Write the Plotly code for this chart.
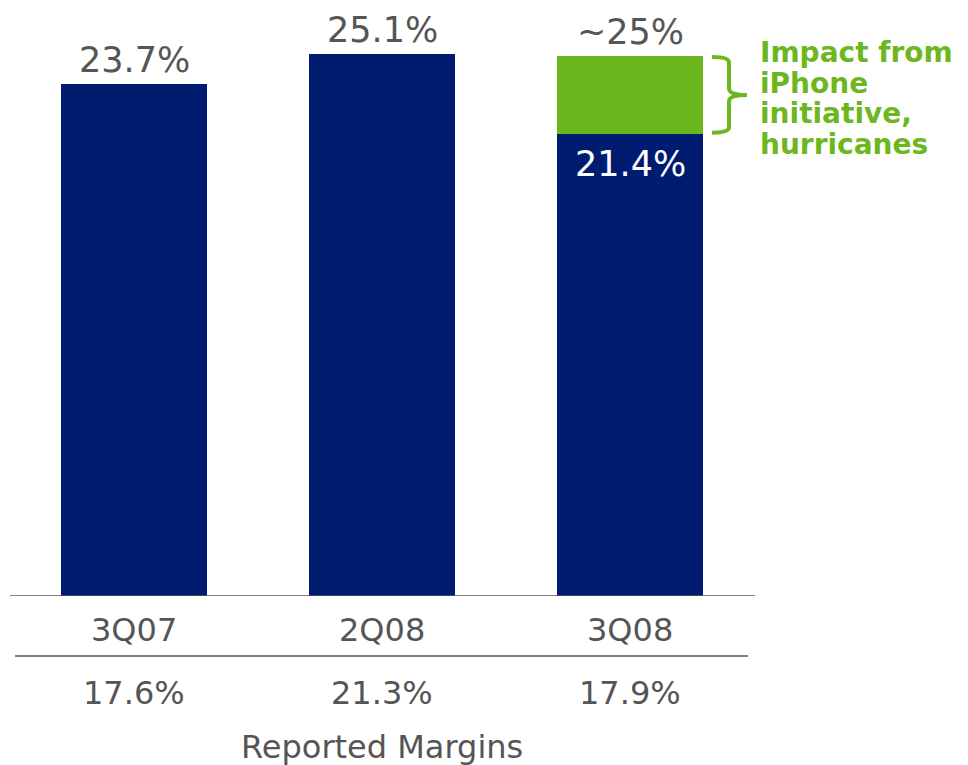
import plotly.graph_objects as go

# Quarterly margin data
quarters = ["3Q07", "2Q08", "3Q08"]
adjusted_margin = [23.7, 25.1, 21.4]       # navy bars (%)
adjusted_labels = ["23.7%", "25.1%", "21.4%"]
impact_quarter = ["3Q08"]
impact_total = [25.0]                      # "~25%" including impact
impact_total_label = "~25%"
reported_margins = ["17.6%", "21.3%", "17.9%"]
impact_lines = ["Impact from", "iPhone", "initiative,", "hurricanes"]

NAVY = "#001C71"
GREEN = "#6DB71E"
GREY = "#555555"
FONT = "DejaVu Sans"

W, H = 968, 765
ML, MR, MT, MB = 10, 214, 20, 169
PLOT_W = W - ML - MR
PLOT_H = H - MT - MB
Y_MAX = PLOT_H / 21.6


def px_x(px):
    return (px - ML) / PLOT_W


def px_y(py):
    return (H - MB - py) / PLOT_H


impact_height = [t - adjusted_margin[quarters.index(q)] for q, t in zip(impact_quarter, impact_total)]

fig = go.Figure()
fig.add_trace(go.Bar(x=quarters, y=adjusted_margin, marker=dict(color=NAVY, line=dict(width=0)),
                     hoverinfo="skip"))
fig.add_trace(go.Bar(x=impact_quarter, y=impact_height, marker=dict(color=GREEN, line=dict(width=0)),
                     hoverinfo="skip"))

annotations = []
# value labels above bars (3Q08 shows the approximate total)
for i, q in enumerate(quarters):
    if q in impact_quarter:
        top = impact_total[impact_quarter.index(q)]
        txt = impact_total_label
        # adjusted value inside the navy segment
        annotations.append(dict(x=q, y=adjusted_margin[i], xref="x", yref="y", text=adjusted_labels[i],
                                showarrow=False, yanchor="middle", yshift=-30,
                                font=dict(family=FONT, size=35, color="white")))
    else:
        top = adjusted_margin[i]
        txt = adjusted_labels[i]
    annotations.append(dict(x=q, y=top, xref="x", yref="y", text=txt, showarrow=False,
                            yanchor="middle", yshift=24,
                            font=dict(family=FONT, size=35, color=GREY)))

# category row and reported margins row
for i, q in enumerate(quarters):
    annotations.append(dict(x=q, y=px_y(630), xref="x", yref="paper", text=q, showarrow=False,
                            yanchor="middle", font=dict(family=FONT, size=32, color=GREY)))
    annotations.append(dict(x=q, y=px_y(693), xref="x", yref="paper", text=reported_margins[i],
                            showarrow=False, yanchor="middle",
                            font=dict(family=FONT, size=32, color=GREY)))
annotations.append(dict(x=0.5, y=px_y(747), xref="paper", yref="paper", text="Reported Margins",
                        showarrow=False, yanchor="middle",
                        font=dict(family=FONT, size=32, color=GREY)))

# impact note, one tightly spaced line per annotation
for k, line in enumerate(impact_lines):
    annotations.append(dict(x=px_x(758), y=px_y(52 + 31 * k), xref="paper", yref="paper",
                            text=f"<b>{line}</b>", showarrow=False, xanchor="left",
                            yanchor="middle",
                            font=dict(family=FONT, size=28, color=GREEN)))

# curly brace spanning the impact segment
y_top = impact_total[0]
y_bot = adjusted_margin[quarters.index(impact_quarter[0])]
y_mid = (y_top + y_bot) / 2
d = 0.3
x0, xv, xt = px_x(712), px_x(729), px_x(747)
brace = (f"M {x0},{y_top - 0.05} Q {xv},{y_top - 0.05} {xv},{y_top - d} "
         f"L {xv},{y_mid + d} Q {xv},{y_mid} {xt},{y_mid} "
         f"Q {xv},{y_mid} {xv},{y_mid - d} "
         f"L {xv},{y_bot + d} Q {xv},{y_bot + 0.05} {x0},{y_bot + 0.05}")

shapes = [
    dict(type="path", path=brace, xref="paper", yref="y", line=dict(color=GREEN, width=4)),
    dict(type="line", xref="paper", yref="y", x0=0, x1=px_x(755), y0=0, y1=0,
         line=dict(color="#595959", width=1.5)),
    dict(type="line", xref="paper", yref="paper", x0=px_x(15), x1=px_x(748),
         y0=px_y(656), y1=px_y(656), line=dict(color="#595959", width=1.5)),
]

fig.update_layout(
    width=W, height=H, barmode="stack", bargap=0.41, showlegend=False,
    margin=dict(l=ML, r=MR, t=MT, b=MB),
    paper_bgcolor="white", plot_bgcolor="white",
    xaxis=dict(range=[-0.5, 2.5], showticklabels=False, showgrid=False, zeroline=False,
               showline=False, ticks="", categoryorder="array", categoryarray=quarters),
    yaxis=dict(range=[0, Y_MAX], visible=False, showgrid=False, zeroline=False),
    annotations=annotations, shapes=shapes,
)

fig.write_html("out.html")
